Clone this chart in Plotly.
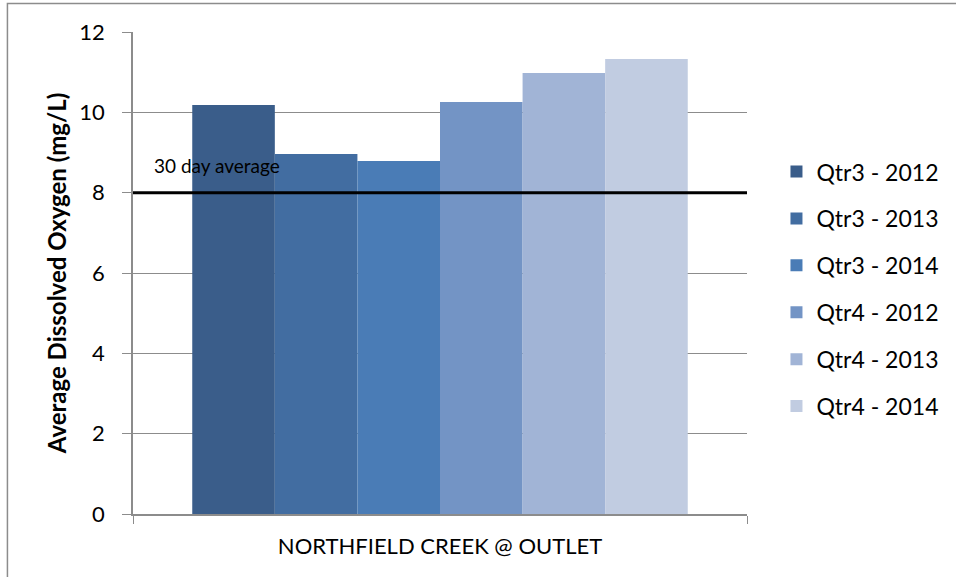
import plotly.graph_objects as go

site = ["NORTHFIELD CREEK @ OUTLET"]
series = ["Qtr3 - 2012", "Qtr3 - 2013", "Qtr3 - 2014",
          "Qtr4 - 2012", "Qtr4 - 2013", "Qtr4 - 2014"]
values = [10.18, 8.96, 8.79, 10.26, 10.98, 11.33]
colors = ["#3A5D8A", "#426DA1", "#4A7CB6", "#7394C5", "#A1B4D6", "#C1CCE1"]
avg_30day = 8
avg_label = "30 day average"
y_ticks = [0, 2, 4, 6, 8, 10, 12]

FONT = "Lato, 'Open Sans', sans-serif"
GRID = "#8C8C8C"

fig = go.Figure()
for name, v, c in zip(series, values, colors):
    fig.add_trace(go.Bar(x=site, y=[v], name=name, marker_color=c,
                         marker_line_width=0, legendgroup=name))

# 30-day average reference line
fig.add_shape(type="line", xref="paper", yref="y", x0=0, x1=1,
              y0=avg_30day, y1=avg_30day, line=dict(color="black", width=3))
fig.add_annotation(xref="paper", yref="y", x=0.031, y=avg_30day, yshift=27,
                   text=avg_label, showarrow=False, xanchor="left",
                   font=dict(family=FONT, size=19, color="black"))

# outer chart border
fig.add_shape(type="rect", xref="paper", yref="paper",
              x0=-0.2045, x1=1.4, y0=-0.2, y1=1.059,
              line=dict(color="#8C8C8C", width=1.5), layer="below")

fig.update_layout(
    width=956, height=577,
    margin=dict(l=133, r=207, t=32, b=63),
    paper_bgcolor="white", plot_bgcolor="white",
    barmode="group", bargap=0.193, bargroupgap=0,
    font=dict(family=FONT, color="black"),
    legend=dict(x=1.048, y=0.755, xanchor="left", yanchor="top",
                font=dict(size=23, family=FONT), tracegroupgap=14,
                traceorder="grouped", itemclick=False),
    showlegend=True,
)
fig.update_xaxes(type="category", showline=True, linecolor=GRID, linewidth=1.5,
                 ticks="outside", tickson="boundaries", ticklen=8,
                 tickcolor=GRID, tickfont=dict(size=22, family=FONT),
                 ticklabelstandoff=12, showgrid=False)
fig.update_yaxes(range=[0, 12], tickvals=y_ticks, showline=True,
                 linecolor=GRID, linewidth=1.5, ticks="outside", ticklen=9,
                 tickcolor=GRID, showgrid=True, gridcolor=GRID, gridwidth=1,
                 zeroline=False, tickfont=dict(size=22, family=FONT),
                 ticklabelstandoff=13,
                 title=dict(text="<b>Average Dissolved Oxygen (mg/L)</b>",
                            font=dict(size=24, family=FONT), standoff=6))

fig.write_html("out.html")
